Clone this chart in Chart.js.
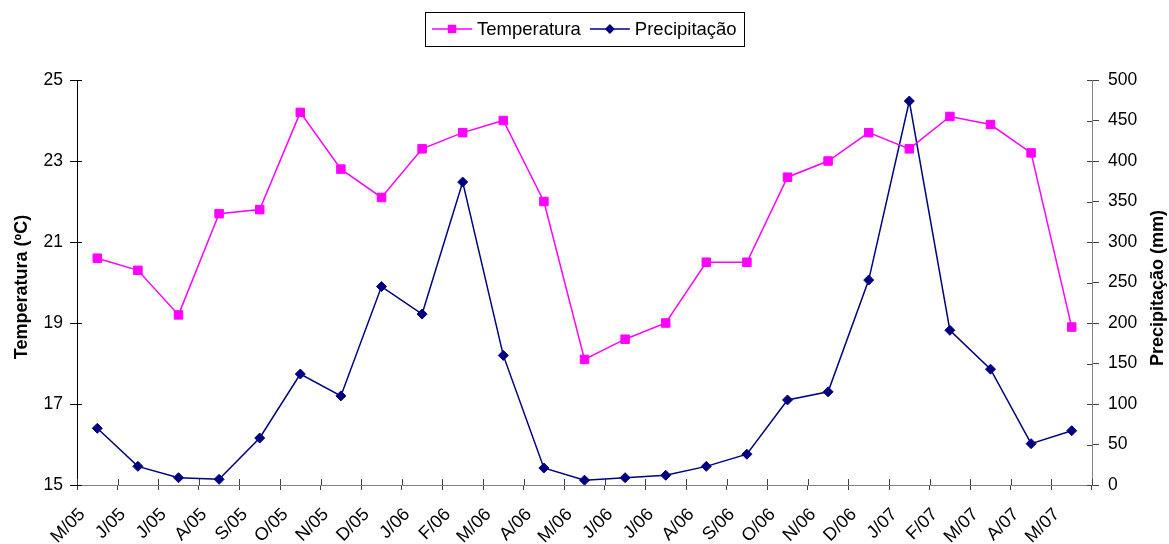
<!DOCTYPE html>
<html>
<head>
<meta charset="utf-8">
<script src="https://cdn.jsdelivr.net/npm/chart.js@4/dist/chart.umd.min.js"></script>
<style>
  html, body { margin: 0; padding: 0; background: #ffffff; }
  #wrap { width: 1169px; height: 544px; position: relative; }
</style>
</head>
<body>
<div id="wrap"><canvas id="chart" width="1169" height="544"></canvas></div>
<script>
// Monthly series, May 2005 – May 2007
const months = ['M/05','J/05','J/05','A/05','S/05','O/05','N/05','D/05',
                'J/06','F/06','M/06','A/06','M/06','J/06','J/06','A/06','S/06','O/06','N/06','D/06',
                'J/07','F/07','M/07','A/07','M/07'];
const temperatura = [20.6, 20.3, 19.2, 21.7, 21.8, 24.2, 22.8, 22.1,
                     23.3, 23.7, 24.0, 22.0, 18.1, 18.6, 19.0, 20.5, 20.5, 22.6, 23.0, 23.7,
                     23.3, 24.1, 23.9, 23.2, 18.9];
const precipitacao = [70, 23, 9, 7, 58, 137, 110, 245,
                      211, 374, 160, 21, 6, 9, 12, 23, 38, 105, 115, 253,
                      474, 191, 143, 51, 67];
const tempTicks = [15, 17, 19, 21, 23, 25];
const precTicks = [0, 50, 100, 150, 200, 250, 300, 350, 400, 450, 500];

const FONT = '"Liberation Sans", Arial, Helvetica, sans-serif';
Chart.defaults.font.family = FONT;
Chart.defaults.color = '#000000';

// Small tick marks that reach into the plot area
const innerTicks = {
  id: 'innerTicks',
  beforeDatasetsDraw(chart) {
    const {ctx, chartArea: a, scales} = chart;
    ctx.save();
    ctx.lineWidth = 1;
    ctx.strokeStyle = '#000000';
    const yl = scales.yTemp;
    yl.ticks.forEach((t, i) => {
      const y = Math.round(yl.getPixelForTick(i)) + 0.5;
      ctx.beginPath(); ctx.moveTo(a.left, y); ctx.lineTo(a.left + 5, y); ctx.stroke();
    });
    ctx.strokeStyle = '#404040';
    const yr = scales.yPrec;
    yr.ticks.forEach((t, i) => {
      const y = Math.round(yr.getPixelForTick(i)) + 0.5;
      ctx.beginPath(); ctx.moveTo(a.right - 5, y); ctx.lineTo(a.right, y); ctx.stroke();
    });
    const xs = scales.x;
    for (let i = 0; i <= months.length; i++) {
      const x = Math.round(xs.getPixelForValue(i - 0.5)) + 0.5;
      ctx.beginPath(); ctx.moveTo(x, a.bottom - 6); ctx.lineTo(x, a.bottom); ctx.stroke();
    }
    ctx.restore();
  }
};

// Boxed legend with line-and-marker samples, plus both axis titles read bottom-to-top
const legendAndTitles = {
  id: 'legendAndTitles',
  afterDraw(chart) {
    const {ctx} = chart;
    ctx.save();
    ctx.font = '18.5px ' + FONT;
    ctx.textBaseline = 'middle';
    const lineLen = 40, gap = 5, itemGap = 9, padX = 7;
    const items = chart.data.datasets.map(ds => ({ds, w: ctx.measureText(ds.label).width}));
    const total = padX * 2 + items.reduce((s, it) => s + lineLen + gap + it.w, 0) + itemGap * (items.length - 1);
    let x = Math.round(chart.width / 2 - total / 2);
    const top = 12, h = 34, midY = top + h / 2;
    ctx.strokeStyle = '#000000';
    ctx.lineWidth = 1;
    ctx.strokeRect(x + 0.5, top + 0.5, Math.round(total), h);
    x += padX;
    items.forEach(it => {
      const ds = it.ds;
      ctx.strokeStyle = ds.borderColor;
      ctx.lineWidth = ds.borderWidth;
      ctx.beginPath(); ctx.moveTo(x, midY); ctx.lineTo(x + lineLen, midY); ctx.stroke();
      const cx = x + lineLen / 2;
      ctx.fillStyle = ds.backgroundColor;
      ctx.beginPath();
      if (ds.pointStyle === 'rect') {
        const s = ds.pointRadius * Math.SQRT1_2;
        ctx.rect(cx - s, midY - s, 2 * s, 2 * s);
      } else {
        const r = ds.pointRadius;
        ctx.moveTo(cx, midY - r); ctx.lineTo(cx + r, midY); ctx.lineTo(cx, midY + r); ctx.lineTo(cx - r, midY);
        ctx.closePath();
      }
      ctx.fill();
      ctx.fillStyle = '#000000';
      ctx.textAlign = 'left';
      ctx.fillText(ds.label, x + lineLen + gap, midY + 1);
      x += lineLen + gap + it.w + itemGap;
    });

    // Axis titles
    ctx.font = 'bold 18px ' + FONT;
    ctx.textAlign = 'center';
    ctx.textBaseline = 'middle';
    const titles = [
      {text: 'Temperatura (ºC)', x: 22, y: 287},
      {text: 'Precipitação (mm)', x: 1158, y: 288}
    ];
    titles.forEach(t => {
      ctx.save();
      ctx.translate(t.x, t.y);
      ctx.rotate(-Math.PI / 2);
      ctx.fillText(t.text, 0, 0);
      ctx.restore();
    });
    ctx.restore();
  }
};

new Chart(document.getElementById('chart'), {
  type: 'line',
  data: {
    labels: months,
    datasets: [
      {
        label: 'Temperatura',
        data: temperatura,
        yAxisID: 'yTemp',
        borderColor: '#FF00FF',
        backgroundColor: '#FF00FF',
        borderWidth: 1.5,
        pointStyle: 'rect',
        pointRadius: 6,
        pointBorderWidth: 1,
        pointBorderColor: '#FF00FF',
        pointBackgroundColor: '#FF00FF',
        tension: 0
      },
      {
        label: 'Precipitação',
        data: precipitacao,
        yAxisID: 'yPrec',
        borderColor: '#000080',
        backgroundColor: '#000080',
        borderWidth: 1.5,
        pointStyle: 'rectRot',
        pointRadius: 5,
        pointBorderWidth: 1,
        pointBorderColor: '#000080',
        pointBackgroundColor: '#000080',
        tension: 0
      }
    ]
  },
  options: {
    responsive: false,
    animation: false,
    layout: { padding: { top: 80, left: 0, right: 0, bottom: 0 } },
    plugins: {
      legend: { display: false },
      tooltip: { enabled: false }
    },
    scales: {
      x: {
        offset: true,
        grid: { offset: true, drawOnChartArea: false, drawTicks: true, tickLength: 5, color: '#404040', tickColor: '#404040' },
        border: { display: true, color: '#808080', width: 1 },
        ticks: { autoSkip: false, maxRotation: 45, minRotation: 45, padding: 14, labelOffset: -15,
                 font: { size: 18 }, color: '#000000' },
        afterFit(s) { s.height = 59; }
      },
      yTemp: {
        position: 'left',
        min: tempTicks[0],
        max: tempTicks[tempTicks.length - 1],
        afterBuildTicks(s) { s.ticks = tempTicks.map(v => ({value: v})); },
        grid: { drawOnChartArea: false, drawTicks: true, tickLength: 7, color: '#000000', tickColor: '#000000' },
        border: { display: true, color: '#000000', width: 1 },
        ticks: { padding: 7, font: { size: 17.5 }, color: '#000000' },
        afterFit(s) { s.width = 77; }
      },
      yPrec: {
        position: 'right',
        min: precTicks[0],
        max: precTicks[precTicks.length - 1],
        afterBuildTicks(s) { s.ticks = precTicks.map(v => ({value: v})); },
        grid: { drawOnChartArea: false, drawTicks: true, tickLength: 7, color: '#404040', tickColor: '#404040' },
        border: { display: true, color: '#808080', width: 1 },
        ticks: { padding: 9, font: { size: 17.5 }, color: '#000000' },
        afterFit(s) { s.width = 77; }
      }
    }
  },
  plugins: [innerTicks, legendAndTitles]
});
</script>
</body>
</html>
